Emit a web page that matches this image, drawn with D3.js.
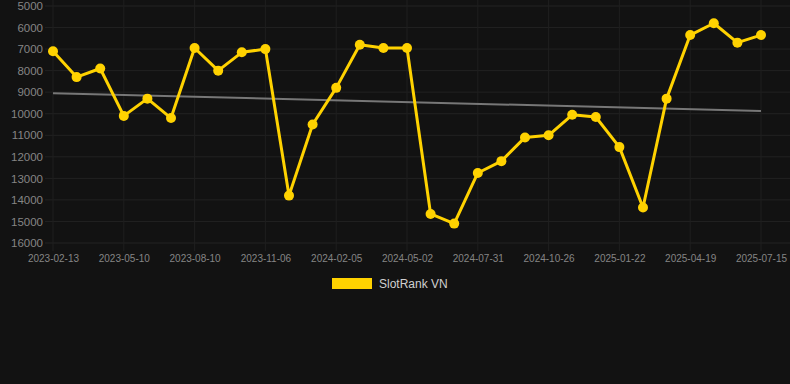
<!DOCTYPE html>
<html>
<head>
<meta charset="utf-8">
<script src="https://cdn.jsdelivr.net/npm/d3@7"></script>
<style>
  html, body { margin: 0; padding: 0; background: #121212; }
  svg { display: block; font-family: "Liberation Sans", Arial, sans-serif; }
</style>
</head>
<body>
<div id="chart"></div>
<script>
// data
var dates = [
  "2023-02-13", "2023-03-14", "2023-04-12", "2023-05-10", "2023-06-10", "2023-07-11",
  "2023-08-10", "2023-09-09", "2023-10-08", "2023-11-06", "2023-12-06", "2024-01-05",
  "2024-02-05", "2024-03-05", "2024-04-03", "2024-05-02", "2024-06-01", "2024-07-01",
  "2024-07-31", "2024-08-29", "2024-09-27", "2024-10-26", "2024-11-25", "2024-12-24",
  "2025-01-22", "2025-02-20", "2025-03-21", "2025-04-19", "2025-05-18", "2025-06-16",
  "2025-07-15"
];
var ranks = [
  7100, 8300, 7900, 10100, 9300, 10200,
  6950, 8000, 7150, 7000, 13800, 10500,
  8800, 6800, 6950, 6950, 14650, 15100,
  12750, 12200, 11100, 11000, 10050, 10150,
  11550, 14350, 9300, 6350, 5800, 6700,
  6350
];
var yTicks = [5000, 6000, 7000, 8000, 9000, 10000, 11000, 12000, 13000, 14000, 15000, 16000];
var seriesName = "SlotRank VN";

var width = 790, height = 384;
var margin = {top: 6, right: 29, bottom: 141, left: 53};

var svg = d3.select("#chart")
    .append("svg")
        .attr("width", width)
        .attr("height", height);

svg.append("rect")
    .attr("width", width)
    .attr("height", height)
    .attr("fill", "#121212");

var x = d3.scalePoint()
    .domain(dates)
    .range([margin.left, width - margin.right]);

var y = d3.scaleLinear()
    .domain([5000, 16000])
    .range([margin.top, height - margin.bottom]);

var shownDates = dates.filter(function (d, i) { return i % 3 === 0; });

// horizontal grid
svg.append("g")
    .selectAll("line")
    .data(yTicks)
    .enter()
    .append("line")
        .attr("x1", 45)
        .attr("x2", width)
        .attr("y1", function (d) { return y(d); })
        .attr("y2", function (d) { return y(d); })
        .attr("stroke", "#222")
        .attr("stroke-width", 1);

// vertical grid
svg.append("g")
    .selectAll("line")
    .data(shownDates)
    .enter()
    .append("line")
        .attr("x1", function (d) { return x(d); })
        .attr("x2", function (d) { return x(d); })
        .attr("y1", 0)
        .attr("y2", y(16000) + 8)
        .attr("stroke", "#1f1f1f")
        .attr("stroke-width", 1);

// Y axis
var yAxis = svg.append("g")
    .attr("transform", "translate(45,0)")
    .call(d3.axisLeft(y).tickValues(yTicks).tickSize(0).tickPadding(2).tickFormat(d3.format("d")));
yAxis.select(".domain").remove();
yAxis.selectAll("text")
    .attr("fill", "#858585")
    .style("font-size", "11.5px");

// X axis
var xAxis = svg.append("g")
    .attr("transform", "translate(0," + (y(16000) + 8) + ")")
    .call(d3.axisBottom(x).tickValues(shownDates).tickSize(0).tickPadding(4));
xAxis.select(".domain").remove();
xAxis.selectAll("text")
    .attr("fill", "#858585")
    .style("font-size", "10px");

// trend line (least squares over the series)
var n = ranks.length;
var mx = d3.mean(d3.range(n)), my = d3.mean(ranks);
var sxy = d3.sum(ranks, function (v, i) { return (i - mx) * (v - my); });
var sxx = d3.sum(d3.range(n), function (i) { return (i - mx) * (i - mx); });
var slope = sxy / sxx, icpt = my - slope * mx;
svg.append("line")
    .attr("x1", x(dates[0]))
    .attr("x2", x(dates[n - 1]))
    .attr("y1", y(icpt))
    .attr("y2", y(icpt + slope * (n - 1)))
    .attr("stroke", "#777")
    .attr("stroke-width", 2);

// series line
var line = d3.line()
    .x(function (d, i) { return x(dates[i]); })
    .y(function (d) { return y(d); });

svg.append("path")
    .datum(ranks)
    .attr("fill", "none")
    .attr("stroke", "#ffd200")
    .attr("stroke-width", 3)
    .attr("stroke-linejoin", "round")
    .attr("d", line);

svg.append("g")
    .selectAll("circle")
    .data(ranks)
    .enter()
    .append("circle")
        .attr("cx", function (d, i) { return x(dates[i]); })
        .attr("cy", function (d) { return y(d); })
        .attr("r", 5)
        .attr("fill", "#ffd200");

// legend
var legend = svg.append("g").attr("transform", "translate(332,278)");
legend.append("rect")
    .attr("width", 40)
    .attr("height", 11)
    .attr("fill", "#ffd200");
legend.append("text")
    .attr("x", 47)
    .attr("y", 6)
    .attr("dy", "0.35em")
    .attr("fill", "#d0d0d0")
    .style("font-size", "12px")
    .text(seriesName);
</script>
</body>
</html>
